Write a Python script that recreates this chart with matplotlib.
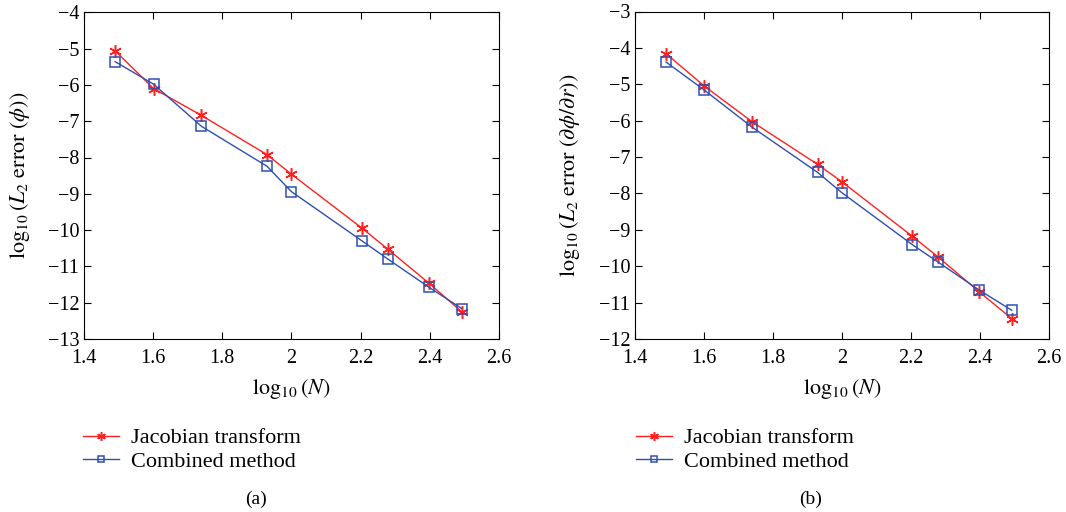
import numpy as np
import matplotlib
matplotlib.use("Agg")
import matplotlib.pyplot as plt

plt.rcParams['font.family'] = ['Liberation Serif', 'DejaVu Serif']
plt.rcParams['mathtext.fontset'] = 'stix'

N_values = [31, 40, 55, 85, 100, 160, 190, 250, 310]
x = np.log10(N_values)

jac_a = [-5.06, -6.10, -6.84, -7.92, -8.46, -9.95, -10.53, -11.47, -12.25]
comb_a = [-5.36, -5.98, -7.14, -8.24, -8.94, -10.30, -10.80, -11.58, -12.16]
jac_b = [-4.16, -5.05, -6.03, -7.20, -7.68, -9.18, -9.75, -10.71, -11.44]
comb_b = [-4.39, -5.16, -6.18, -7.42, -7.98, -9.41, -9.89, -10.66, -11.21]

xticks = [1.4, 1.6, 1.8, 2.0, 2.2, 2.4, 2.6]
xticklabels = ['1.4', '1.6', '1.8', '2', '2.2', '2.4', '2.6']
ylim_a = (-13, -4)
ylim_b = (-12, -3)
ylabel_a = r'$\log_{10}(L_2\ \mathrm{error}\ (\phi))$'
ylabel_b = r'$\log_{10}(L_2\ \mathrm{error}\ (\partial\phi/\partial r))$'
xlabel = r'$\log_{10}(N)$'
series_names = ['Jacobian transform', 'Combined method']
captions = ['(a)', '(b)']

red = '#ff2020'
blue = '#2e4fb0'

W, H = 1066, 512
fig = plt.figure(figsize=(W / 100, H / 100), dpi=100)
ax_a = fig.add_axes([83.5 / W, 1 - 339 / H, 415.8 / W, 326.7 / H])
ax_b = fig.add_axes([634.5 / W, 1 - 339 / H, 414.8 / W, 327.5 / H])

panels = [(ax_a, jac_a, comb_a, ylim_a, ylabel_a, 83 / W, 256 / W, -0.124),
          (ax_b, jac_b, comb_b, ylim_b, ylabel_b, 636 / W, 811 / W, -0.127)]
for i, (ax, j, c, yl, ylab, legx, capx, ylx) in enumerate(panels):
    l1, = ax.plot(x, j, color=red, marker=(6, 2, 0), markersize=9, lw=1.0,
                  markeredgewidth=1.1, markerfacecolor=red, markeredgecolor=red,
                  label=series_names[0])
    l2, = ax.plot(x, c, color=blue, marker='s', markersize=7, lw=1.0,
                  markeredgewidth=1.1, markerfacecolor='none', markeredgecolor=blue,
                  label=series_names[1])
    ax.set_xlim(1.4, 2.6)
    ax.set_ylim(*yl)
    ax.set_xticks(xticks)
    ax.set_xticklabels(xticklabels)
    yt = np.arange(yl[0], yl[1] + 1, 1)
    ax.set_yticks(yt)
    ax.set_yticklabels(['\u2212%d' % (-v) for v in yt])
    ax.tick_params(direction='in', top=True, right=True, labelsize=14.5, length=5, width=0.8)
    ax.tick_params(axis='x', pad=7)
    ax.tick_params(axis='y', pad=3)
    for s in ax.spines.values():
        s.set_linewidth(0.8)
    ax.set_xlabel(xlabel, fontsize=16)
    ax.xaxis.set_label_coords(0.5, -0.115)
    ax.set_ylabel(ylab, fontsize=16)
    ax.yaxis.set_label_coords(ylx, 0.5)
    fig.legend(handles=[l1, l2], loc='center left', bbox_to_anchor=(legx, 1 - 450 / H),
               frameon=False, fontsize=16, handlelength=1.6, handletextpad=0.55,
               labelspacing=0.15, borderaxespad=0, borderpad=0, markerscale=0.7)
    fig.text(capx, 1 - 499 / H, captions[i], ha='center', va='center', fontsize=14)

fig.savefig('out.png', dpi=100)
